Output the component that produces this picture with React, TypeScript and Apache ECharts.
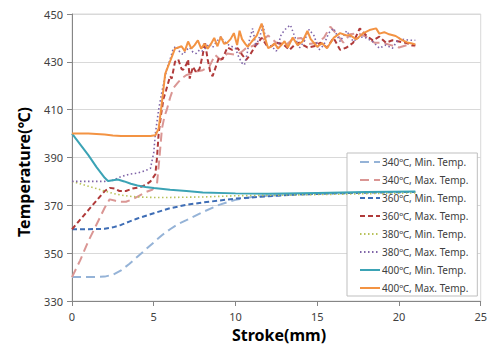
import React, { useEffect, useRef } from "react";
import * as echarts from "echarts";

const seriesNames = [
  "340℃, Min. Temp.",
  "340℃, Max. Temp.",
  "360℃, Min. Temp.",
  "360℃, Max. Temp.",
  "380℃, Min. Temp.",
  "380℃, Max. Temp.",
  "400℃, Min. Temp.",
  "400℃, Max. Temp.",
];

const xTicks = [0, 5, 10, 15, 20, 25];
const yTicks = [330, 350, 370, 390, 410, 430, 450];

const min340: [number, number][] = [
  [0, 340], [1, 340], [2, 340.2], [2.5, 341], [3, 342.8], [3.5, 345.5], [4, 348.5], [4.5, 351.5],
  [5, 354.5], [5.5, 357.5], [6, 360], [6.5, 362.2], [7, 363.8], [8, 367.2], [9, 370.2], [10, 372.3],
  [11, 373.5], [12, 374], [14, 374.5], [16, 375], [18, 375.3], [21, 375.6],
];

const max340: [number, number][] = [
  [0, 340], [0.5, 347], [1, 355], [1.5, 362], [2, 369], [2.3, 372.5], [2.6, 372], [2.9, 371.5],
  [3.3, 371.5], [3.7, 372.5], [4.1, 374], [4.5, 375.5], [4.9, 376.5], [5.2, 379], [5.35, 390],
  [5.5, 402], [5.65, 407], [5.8, 410], [6.0, 415], [6.2, 419], [6.5, 421.5], [6.7, 423], [7.0, 424.5],
  [7.3, 425], [7.6, 426], [8.0, 426.5], [8.4, 428], [8.75, 432.9], [9.1, 430.8], [9.5, 433.5],
  [10.0, 433], [10.35, 434], [10.6, 435.5], [11.0, 436.5], [11.5, 438], [12.0, 441], [12.5, 438],
  [13.0, 436.5], [13.5, 439.5], [14.0, 440], [14.5, 437.5], [15.0, 438], [15.4, 440], [15.8, 444.7],
  [16.2, 441.5], [16.6, 438], [17.0, 441.5], [17.5, 442], [18.0, 440.5], [18.5, 438], [19.0, 438],
  [19.5, 437], [20.0, 436], [20.5, 437], [21, 436.5],
];

const min360: [number, number][] = [
  [0, 360], [1, 360], [2, 360.2], [2.5, 360.8], [3, 361.8], [3.5, 363.2], [4, 364.5], [5, 366.7],
  [6, 368.8], [7, 370.2], [8, 371.2], [10, 372.8], [12, 373.8], [14, 374.6], [16, 375], [18, 375.3],
  [21, 375.6],
];

const max360: [number, number][] = [
  [0, 360], [0.5, 364], [1, 368], [1.5, 372], [2, 376], [2.3, 377.3], [2.6, 377], [2.9, 376],
  [3.3, 376], [3.7, 377], [4.1, 377.5], [4.5, 378.5], [4.8, 380], [5.1, 383], [5.2, 390], [5.3, 400],
  [5.45, 408], [5.6, 414.7], [5.75, 418], [5.9, 421.6], [6.0, 424], [6.1, 423], [6.3, 430], [6.5, 431],
  [6.7, 427], [6.8, 426.7], [7.0, 429], [7.1, 431], [7.2, 423], [7.4, 428], [7.6, 425.5], [7.8, 427],
  [8.0, 433], [8.13, 438.4], [8.3, 431], [8.45, 426], [8.6, 424], [8.8, 428], [9.0, 432], [9.2, 431],
  [9.5, 436], [9.8, 435], [10.14, 435.7], [10.4, 433], [10.65, 430.8], [10.9, 433], [11.2, 436.5],
  [11.6, 440], [11.9, 437], [12.2, 436.5], [12.5, 438], [12.9, 437.5], [13.3, 435], [13.6, 437],
  [13.9, 438], [14.4, 436], [14.8, 436.5], [15.2, 438], [15.6, 436], [16.0, 440], [16.4, 435],
  [16.8, 436], [17.2, 438], [17.6, 444], [18.0, 441], [18.4, 439], [18.8, 440.5], [19.2, 438],
  [19.6, 439], [20.0, 438.5], [20.4, 438], [20.8, 437], [21, 437],
];

const min380: [number, number][] = [
  [0, 380], [0.5, 379], [1, 378], [1.5, 377], [2, 376], [2.5, 375], [3, 374.3], [3.5, 373.8],
  [4, 373.5], [5, 373.3], [6, 373.3], [8, 373.5], [10, 374], [13, 374.3], [16, 374.6], [19, 375],
  [21, 375.2],
];

const max380: [number, number][] = [
  [0, 380], [1, 380], [2, 380], [2.5, 380.5], [3, 382], [3.5, 383], [4, 383.5], [4.5, 384.5],
  [4.8, 385.5], [5.0, 392], [5.1, 400], [5.3, 410], [5.5, 417.5], [5.7, 424], [5.8, 427], [6.0, 431],
  [6.2, 435.7], [6.4, 436.5], [6.6, 434], [6.8, 433], [7.0, 435], [7.2, 436], [7.4, 434], [7.6, 433.5],
  [7.8, 435], [8.0, 434.5], [8.2, 436], [8.4, 437.5], [8.6, 436], [8.8, 438], [9.1, 440.5], [9.3, 438.5],
  [9.6, 437], [9.99, 435.7], [10.2, 432], [10.4, 429.5], [10.55, 428.7], [10.7, 433], [10.85, 439],
  [11.05, 444], [11.25, 436.5], [11.5, 441], [11.7, 445], [11.9, 437], [12.2, 436.5], [12.5, 434.5],
  [12.8, 441.5], [13.1, 444], [13.36, 445.4], [13.6, 441], [13.9, 435.7], [14.2, 438.5], [14.5, 443.5],
  [14.8, 441], [15.1, 435], [15.4, 437], [15.7, 442], [16.0, 444], [16.4, 438.5], [16.8, 443],
  [17.2, 438.5], [17.6, 440.5], [18.0, 440], [18.4, 438.4], [18.8, 435.7], [19.2, 437], [19.6, 435.7],
  [20.0, 439.8], [20.4, 439.2], [20.8, 439], [21, 439],
];

const min400: [number, number][] = [
  [0, 400], [0.5, 395.5], [1, 391], [1.5, 386], [2, 381.5], [2.2, 380.2], [2.5, 380.5], [2.8, 380.8],
  [3.2, 380], [3.6, 379], [4, 378.3], [4.5, 377.7], [5, 377.2], [6, 376.5], [7, 376], [8, 375.4],
  [10, 375], [12, 374.8], [15, 375.2], [18, 375.6], [21, 375.8],
];

const max400: [number, number][] = [
  [0, 400], [1, 400], [2, 399.6], [2.5, 399.2], [3, 399], [4, 399], [4.8, 399], [5.1, 399.3],
  [5.3, 402], [5.5, 413], [5.7, 425], [5.9, 428.5], [6.1, 432], [6.3, 435.5], [6.5, 436], [6.7, 436.5],
  [6.9, 434.5], [7.1, 438.5], [7.3, 435.5], [7.5, 437], [7.7, 439], [7.9, 435.5], [8.1, 437.5],
  [8.3, 435.5], [8.5, 437.5], [8.7, 440], [8.9, 436.5], [9.1, 440.5], [9.3, 437.5], [9.5, 438],
  [9.7, 439.5], [9.9, 442], [10.1, 437], [10.25, 443], [10.4, 439.5], [10.6, 437.5], [10.75, 436.3],
  [11, 438.5], [11.3, 441], [11.6, 446], [11.8, 440], [12, 435.7], [12.2, 436.5], [12.4, 437.8],
  [12.6, 435.5], [12.8, 437], [13, 438.6], [13.2, 436], [13.5, 440.2], [13.8, 437], [14.1, 438.5],
  [14.4, 442.9], [14.6, 439.5], [15, 436.3], [15.3, 437.8], [15.6, 435.7], [16, 440], [16.4, 442],
  [16.8, 441], [17, 441.2], [17.4, 439.4], [17.8, 441.9], [18.2, 443.3], [18.6, 444], [18.8, 441.8],
  [19.1, 442.4], [19.4, 441.5], [19.8, 440.8], [20.2, 439.1], [20.5, 438.1], [20.8, 437.7], [21, 437.3],
];

const seriesData = [min340, max340, min360, max360, min380, max380, min400, max400];
const seriesColors = ["#95B3D7", "#DA9694", "#3E6DB5", "#B03A3A", "#B8C25A", "#7F64A8", "#3BA3B5", "#F39343"];
const seriesDash: (number[] | "solid")[] = [[9, 5], [9, 5], [5, 3], [5, 3], [1.5, 2.5], [1.5, 2.5], "solid", "solid"];
const seriesWidth = [2, 2, 2, 2, 1.6, 1.6, 2, 2];

const FONT = "'Noto Sans', 'Open Sans', sans-serif";

export default function App() {
  const ref = useRef<HTMLDivElement>(null);
  useEffect(() => {
    if (!ref.current) return;
    const chart = echarts.init(ref.current, null, { renderer: "svg" });
    chart.setOption({
      animation: false,
      backgroundColor: "#ffffff",
      grid: {
        left: 72,
        right: 4,
        top: 14,
        bottom: 46,
        show: true,
        borderColor: "#d9d9d9",
        borderWidth: 1,
      },
      xAxis: {
        type: "value",
        min: xTicks[0],
        max: xTicks[xTicks.length - 1],
        interval: 5,
        axisLine: { show: true, lineStyle: { color: "#868686", width: 1 } },
        axisTick: { show: true, length: 5, lineStyle: { color: "#868686" } },
        splitLine: { show: false },
        axisLabel: { color: "#404040", fontSize: 11, fontFamily: FONT, margin: 10 },
      },
      yAxis: {
        type: "value",
        min: yTicks[0],
        max: yTicks[yTicks.length - 1],
        interval: 20,
        axisLine: { show: true, lineStyle: { color: "#868686", width: 1 } },
        axisTick: { show: true, length: 5, lineStyle: { color: "#868686" } },
        splitLine: { show: true, lineStyle: { color: "#d9d9d9", width: 1 } },
        axisLabel: { color: "#404040", fontSize: 11, fontFamily: FONT, margin: 9 },
      },
      legend: {
        show: true,
        orient: "vertical",
        left: 347,
        top: 153,
        width: 133,
        backgroundColor: "#ffffff",
        borderColor: "#bfbfbf",
        borderWidth: 1,
        borderRadius: 0,
        padding: [4, 9, 3, 12],
        itemWidth: 20,
        itemHeight: 10,
        itemGap: 8,
        itemStyle: { opacity: 0 },
        textStyle: { color: "#404040", fontSize: 10, fontFamily: FONT, padding: [0, 0, 0, -3] },
        data: seriesNames,
      },
      graphic: [
        {
          type: "text",
          x: 24,
          y: 172,
          rotation: Math.PI / 2,
          style: {
            text: "Temperature(℃)",
            fill: "#000000",
            font: `bold 16px ${FONT}`,
            textAlign: "center",
            textVerticalAlign: "middle",
          },
        },
        {
          type: "text",
          x: 279,
          y: 335,
          style: {
            text: "Stroke(mm)",
            fill: "#000000",
            font: `bold 16px ${FONT}`,
            textAlign: "center",
            textVerticalAlign: "middle",
          },
        },
      ],
      series: seriesNames.map((name, i) => ({
        name,
        type: "line",
        data: seriesData[i],
        showSymbol: false,
        symbol: "none",
        smooth: false,
        z: i === 7 ? 10 : 2 + i,
        lineStyle: { color: seriesColors[i], width: seriesWidth[i], type: seriesDash[i] },
        itemStyle: { color: seriesColors[i] },
      })),
    });
    return () => chart.dispose();
  }, []);
  return <div ref={ref} style={{ width: 490, height: 347, position: "absolute", left: 0, top: 0 }} />;
}
